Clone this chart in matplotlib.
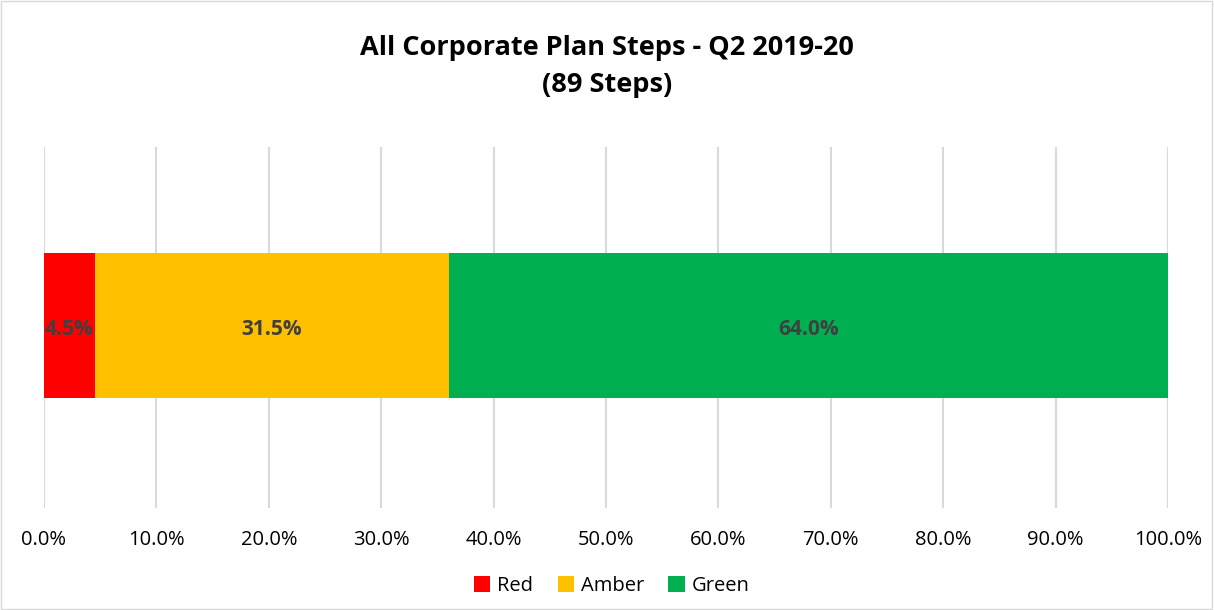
import matplotlib
matplotlib.use("Agg")
import matplotlib.pyplot as plt
from matplotlib.patches import Rectangle

# data
categories = ["Red", "Amber", "Green"]
values = [4.5, 31.5, 64.0]
colors = ["#FF0000", "#FFC000", "#00B050"]
ticks = [0, 10, 20, 30, 40, 50, 60, 70, 80, 90, 100]

plt.rcParams["font.family"] = ["Open Sans", "DejaVu Sans"]

fig = plt.figure(figsize=(12.14, 6.10), dpi=100)
ax = fig.add_axes([44 / 1214, 1 - 508 / 610, 1124 / 1214, 361 / 610])

left = 0
for name, val, col in zip(categories, values, colors):
    ax.barh(0, val, left=left, height=0.4, color=col, label=name, zorder=2)
    ax.text(left + val / 2, -0.01, f"{val:.1f}%", ha="center", va="center",
            fontsize=15, fontweight="bold", color="#404040", zorder=3)
    left += val

ax.set_xlim(0, 100)
ax.set_ylim(-0.505, 0.495)
ax.set_xticks(ticks)
ax.set_xticklabels([f"{t:.1f}%" for t in ticks], fontsize=14.5, color="#000000")
ax.set_yticks([])
ax.grid(axis="x", color="#D9D9D9", linewidth=1.5, zorder=0)
ax.tick_params(axis="x", length=0, pad=16)
for s in ax.spines.values():
    s.set_visible(False)

fig.suptitle("All Corporate Plan Steps - Q2 2019-20\n(89 Steps)",
             fontsize=19.5, fontweight="bold", y=0.942, linespacing=1.55)

leg = fig.legend(loc="center", bbox_to_anchor=(0.504, 1 - 586 / 610), ncol=3,
                 frameon=False, fontsize=14.5, handlelength=0.82, handleheight=0.82,
                 handletextpad=0.35, columnspacing=1.2)

fig.add_artist(Rectangle((0.001, 0.002), 0.997, 0.996, transform=fig.transFigure,
                         fill=False, edgecolor="#D9D9D9", linewidth=1))

fig.savefig("out.png", dpi=100)
